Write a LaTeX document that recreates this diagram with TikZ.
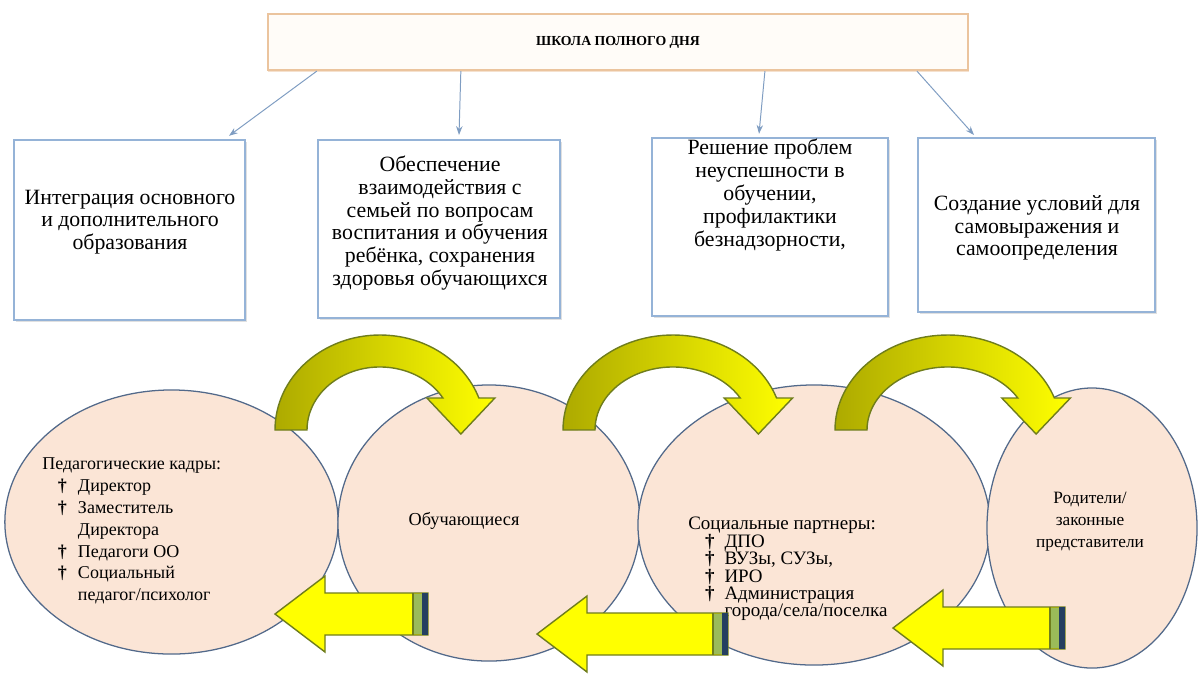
\documentclass[tikz,border=0pt]{standalone}
\usepackage{fontspec}
\setmainfont{Liberation Serif}
\usetikzlibrary{arrows.meta,positioning,calc,shapes.geometric,shadows}
\definecolor{titleline}{HTML}{EBC49E}
\definecolor{titlefill}{HTML}{FFFCF8}
\definecolor{boxline}{HTML}{95B3D7}
\definecolor{linkblue}{HTML}{7F9DC2}
\definecolor{peach}{HTML}{FBE5D6}
\definecolor{rim}{HTML}{52698A}
\definecolor{olivedark}{HTML}{6F7D1C}
\definecolor{olivefill}{HTML}{ADAA00}
\definecolor{lemon}{HTML}{FFFF00}
\definecolor{stripegreen}{HTML}{9BBB59}
\definecolor{stripenavy}{HTML}{243F60}
\newcommand\itemmark{\textbf{†}}
\tikzset{
  titlebox/.style={draw=titleline, line width=1.6pt, fill=titlefill, inner sep=0pt,
                   minimum width=17.5cm, minimum height=1.4cm,
                   font=\fontsize{9.8}{12}\selectfont\bfseries,
                   drop shadow={shadow xshift=0.4pt, shadow yshift=-1.6pt, fill=titleline, opacity=0.5}},
  goalbox/.style={draw=boxline, line width=1.4pt, fill=white, inner sep=0pt,
                  drop shadow={shadow xshift=1.2pt, shadow yshift=-1.6pt, fill=black!30, opacity=0.4}},
  goaltext/.style={align=center, font=\fontsize{15.5}{16.2}\selectfont},
  link/.style={-{Stealth[length=2.2mm,width=1.6mm]}, line width=0.7pt, color=linkblue},
  bubble/.style={ellipse, draw=rim, line width=0.9pt, fill=peach, inner sep=0pt},
  bubbletext/.style={align=center, font=\fontsize{13}{15.6}\selectfont},
  listtext/.style={inner sep=0pt, font=\fontsize{12.8}{15.5}\selectfont},
  bendarrow/.style={draw=olivedark, line width=1pt, left color=olivefill, right color=lemon},
  backarrow/.style={draw=olivedark, line width=1pt, fill=lemon}}

\begin{document}
\begin{tikzpicture}[x=0.025cm, y=-0.025cm]
  \useasboundingbox (0,0) rectangle (1202,673);

  % title and goals
  \node[titlebox] (title) at (618,42) {ШКОЛА ПОЛНОГО ДНЯ};

  \node[goalbox, minimum width=5.775cm, minimum height=4.5cm]  (box1) at (129.5,230) {};
  \node[goalbox, minimum width=6.05cm,  minimum height=4.45cm] (box2) at (439,229) {};
  \node[goalbox, minimum width=5.9cm,   minimum height=4.45cm] (box3) at (770,227) {};
  \node[goalbox, minimum width=5.925cm, minimum height=4.35cm] (box4) at (1036.5,225) {};

  \node[goaltext] (goal1) at (130,222) {Интеграция основного\\и дополнительного\\образования};
  \node[goaltext] (goal2) at (440,223) {Обеспечение\\взаимодействия с\\семьей по вопросам\\воспитания и обучения\\ребёнка, сохранения\\здоровья обучающихся};
  \node[goaltext] (goal3) at (770,195) {Решение проблем\\неуспешности в\\обучении,\\профилактики\\безнадзорности,};
  \node[goaltext] (goal4) at (1037,228) {Создание условий для\\самовыражения и\\самоопределения};

  \draw[link] ([xshift=1.25cm]title.south west) -- ([xshift=-0.425cm, yshift=0.08cm]box1.north east);
  \draw[link] ([xshift=4.85cm]title.south west) -- ([xshift=3.55cm, yshift=0.1cm]box2.north west);
  \draw[link] ([xshift=12.45cm]title.south west) -- ([xshift=2.7cm, yshift=0.08cm]box3.north west);
  \draw[link] ([xshift=16.25cm]title.south west) -- ([xshift=1.425cm, yshift=0.05cm]box4.north west);

  % participants
  \node[bubble, minimum width=8.33cm, minimum height=6.6cm] (staff)    at (171.5,522) {};
  \node[bubble, minimum width=7.55cm, minimum height=6.9cm] (pupils)   at (489,523) {};
  \node[bubble, minimum width=8.8cm,  minimum height=7.0cm] (partners) at (814,525) {};
  \node[bubble, minimum width=5.25cm, minimum height=7.0cm] (parents)  at (1092,528) {};

  \node[listtext, anchor=west] (stafflist) at (42,531) {%
    \begin{tabular}{@{\hspace{11pt}}c@{\hspace{8pt}}l@{}}
      \multicolumn{2}{@{}l@{}}{Педагогические кадры:}\\
      \itemmark & Директор\\
      \itemmark & Заместитель\\
                & Директора\\
      \itemmark & Педагоги ОО\\
      \itemmark & Социальный\\
                & педагог/психолог
    \end{tabular}};
  \node[bubbletext] (pupilsname) at (464,521) {Обучающиеся};
  \node[listtext, anchor=west, font=\fontsize{13.5}{10.5}\selectfont] (partnerlist) at (688,569) {%
    \begin{tabular}{@{\hspace{12pt}}c@{\hspace{7pt}}l@{}}
      \multicolumn{2}{@{}l@{}}{Социальные партнеры:}\\
      \itemmark & ДПО\\
      \itemmark & ВУЗы, СУЗы,\\
      \itemmark & ИРО\\
      \itemmark & Администрация\\
                & города/села/поселка
    \end{tabular}};
  \node[bubbletext, font=\fontsize{12.3}{15.6}\selectfont] (parentsname) at (1090,522) {Родители/\\законные\\представители};

  % bent arrows over the circles
  \foreach \cx/\rx in {380/105, 673/110, 948/113} {
    \pgfmathsetmacro\irx{\rx-32}
    \pgfmathsetmacro\ox{\cx+0.9415*\rx}
    \pgfmathsetmacro\ix{\cx+0.8616*\irx}
    \pgfmathsetmacro\tx{(\ox+\ix)/2}
    \path[bendarrow] (\cx-\rx,430) arc[start angle=180, end angle=340.3, x radius=\rx, y radius=95]
      -- (\ox+16,398) -- (\tx,434) -- (\ix-16,398) -- (\ix,398)
      arc[start angle=329.5, end angle=180, x radius=\irx, y radius=63] -- cycle;
  }

  % arrows back to the left
  \foreach \tip/\tail/\yc in {275/428/614, 537/728/634, 893/1065/628} {
    \path[backarrow] (\tip,\yc) -- (\tip+50,\yc-38) -- (\tip+50,\yc-21) -- (\tail,\yc-21)
      -- (\tail,\yc+21) -- (\tip+50,\yc+21) -- (\tip+50,\yc+38) -- cycle;
    \fill[stripegreen] (\tail-15,\yc-20) rectangle (\tail-6,\yc+20);
    \fill[stripenavy] (\tail-6,\yc-21) rectangle (\tail,\yc+21);
    \draw[olivedark, line width=0.8pt] (\tail-15,\yc-21) -- (\tail-15,\yc+21);
  }
\end{tikzpicture}
\end{document}
